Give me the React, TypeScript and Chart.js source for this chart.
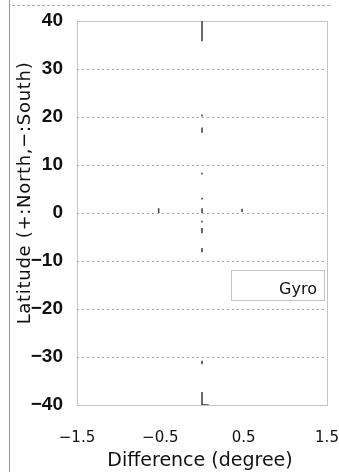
import React, { useEffect, useRef } from "react";
import { Chart, registerables } from "chart.js";

Chart.register(...registerables);

const seriesName = "Gyro";
const latTicks = [-40, -30, -20, -10, 0, 10, 20, 30, 40];
const diffTicks = [-1.5, -0.5, 0.5, 1.5];
const xTitle = "Difference (degree)";
const yTitle = "Latitude (+:North,\u2212:South)";

// Gyro difference (deg) vs latitude (deg); null separates visible trace fragments
const gyroDiff = [
  0, 0, null, 0, 0, null, 0, 0, null, 0, 0, null, 0, 0, null, 0, 0, null,
  0, 0, null, 0, 0, null, 0, 0, null, 0, 0, null, 0, 0, 0.08, null,
  -0.52, -0.52, null, 0.48, 0.48,
];
const gyroLat = [
  40, 35.8, null, 20.5, 20.1, null, 17.8, 16.7, null, 8.4, 8.0, null, 3.2, 2.8, null, 1.0, 0, null,
  -1.6, -2.0, null, -3.1, -4.2, null, -7.3, -8.2, null, -30.8, -31.5, null, -37.3, -40, -40, null,
  1.0, 0, null, 0.9, 0.2,
];

const fmt = (v: number) => (v < 0 ? "\u2212" + Math.abs(v) : String(v));

const framePlugin = {
  id: "frameAndText",
  beforeDatasetsDraw(chart: any) {
    const { ctx, chartArea } = chart;
    ctx.save();
    ctx.strokeStyle = "#8a8a8a";
    ctx.lineWidth = 1;
    ctx.setLineDash([1, 1]);
    ctx.strokeRect(
      Math.round(chartArea.left) + 0.5,
      Math.round(chartArea.top) + 0.5,
      Math.round(chartArea.right - chartArea.left),
      Math.round(chartArea.bottom - chartArea.top)
    );
    ctx.restore();
  },
  afterDraw(chart: any) {
    const { ctx, chartArea } = chart;
    ctx.save();
    // legend box inside plot
    const bw = 93;
    const bh = 30;
    const bx = chartArea.right - bw - 3;
    const by = chartArea.top + 249;
    ctx.strokeStyle = "#8a8a8a";
    ctx.lineWidth = 1;
    ctx.setLineDash([1, 1]);
    ctx.fillStyle = "#ffffff";
    ctx.fillRect(bx, by, bw, bh);
    ctx.strokeRect(Math.round(bx) + 0.5, Math.round(by) + 0.5, bw, bh);
    ctx.setLineDash([]);
    ctx.fillStyle = "#111";
    ctx.font = "16px 'DejaVu Sans', sans-serif";
    ctx.textAlign = "right";
    ctx.textBaseline = "alphabetic";
    ctx.fillText(seriesName, bx + bw - 7, by + 24);

    // x title
    ctx.font = "19px 'DejaVu Sans', sans-serif";
    ctx.textAlign = "center";
    ctx.fillText(xTitle, (chartArea.left + chartArea.right) / 2 - 2, chart.height - 6);

    // y title
    ctx.translate(30, 193);
    ctx.rotate(-Math.PI / 2);
    ctx.font = "18px 'DejaVu Sans', sans-serif";
    try {
      (ctx as any).letterSpacing = "0.7px";
    } catch (e) {}
    ctx.fillText(yTitle, 0, 0);
    ctx.restore();
  },
};

export default function App() {
  const ref = useRef<HTMLCanvasElement>(null);

  useEffect(() => {
    if (!ref.current) return;
    const points = gyroDiff.map((x, i) => ({ x: x as any, y: gyroLat[i] as any }));
    const chart = new Chart(ref.current, {
      type: "scatter",
      data: {
        datasets: [
          {
            label: seriesName,
            data: points,
            showLine: true,
            spanGaps: false,
            borderColor: "#3a3a3a",
            backgroundColor: "#3a3a3a",
            borderWidth: 1.5,
            pointRadius: 0,
            pointHoverRadius: 0,
          },
        ],
      },
      options: {
        responsive: false,
        animation: false,
        layout: { padding: { left: 0, right: 12, top: 21, bottom: 0 } },
        plugins: { legend: { display: false }, tooltip: { enabled: false } },
        scales: {
          x: {
            type: "linear",
            min: -1.5,
            max: 1.5,
            afterBuildTicks: (s: any) => {
              s.ticks = diffTicks.map((v) => ({ value: v }));
            },
            afterFit: (s: any) => {
              s.height = 67;
              s.paddingLeft = 0;
              s.paddingRight = 0;
              s.paddingTop = 0;
              s.paddingBottom = 0;
            },
            grid: { display: false, drawTicks: false },
            border: { display: false },
            ticks: {
              autoSkip: false,
              maxRotation: 0,
              padding: 24,
              color: "#111",
              font: { family: "'DejaVu Sans', sans-serif", size: 15 },
              callback: (v: any) => fmt(Number(v)),
            },
          },
          y: {
            type: "linear",
            min: -40,
            max: 40,
            afterBuildTicks: (s: any) => {
              s.ticks = latTicks.map((v) => ({ value: v }));
            },
            afterFit: (s: any) => {
              s.width = 77;
              s.paddingLeft = 0;
              s.paddingRight = 0;
              s.paddingTop = 0;
              s.paddingBottom = 0;
            },
            grid: {
              drawTicks: false,
              color: (c: any) =>
                c.tick && (c.tick.value === 40 || c.tick.value === -40) ? "rgba(0,0,0,0)" : "#a8a8a8",
              lineWidth: 1,
            },
            border: { display: false, dash: [2, 3] },
            ticks: {
              autoSkip: false,
              padding: 14,
              color: "#111",
              font: { family: "'Liberation Sans', Arial, sans-serif", size: 19, weight: "bold" },
              callback: (v: any) => fmt(Number(v)),
            },
          },
        },
      },
      plugins: [framePlugin],
    });
    return () => chart.destroy();
  }, []);

  return (
    <div style={{ position: "absolute", left: 0, top: 0, width: 339, height: 472, background: "#fff" }}>
      <canvas ref={ref} width={339} height={472} style={{ width: 339, height: 472, display: "block" }} />
      <div style={{ position: "absolute", left: 9, top: 0, width: 1, height: 472, background: "#9a9a9a" }} />
      <div style={{ position: "absolute", left: 12, top: 5, width: 318, height: 0, borderTop: "1px dashed #b0b0b0" }} />
    </div>
  );
}
